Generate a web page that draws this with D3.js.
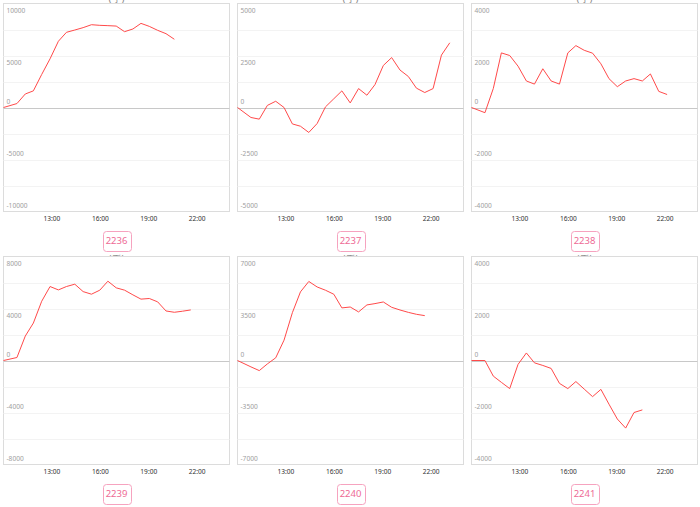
<!DOCTYPE html>
<html><head><meta charset="utf-8">
<script src="https://cdn.jsdelivr.net/npm/d3@7"></script>
<style>
html,body{margin:0;padding:0;background:#fff;}
svg{display:block;font-family:"Noto Sans",sans-serif;}
</style></head>
<body>
<svg id="chart" width="700" height="507"></svg>
<script>
// ---- data ----
const codes = ["2236","2237","2238","2239","2240","2241"];
const times = ["10:00","10:50","11:21","11:51","12:22","12:53","13:24","13:54","14:25","14:56","15:27","15:58","16:28","16:59","17:30","18:01","18:31","19:02","19:33","20:04","20:35","21:05","21:36","22:07","22:38","23:09"];
const v2236 = [0,380,1300,1600,3180,4680,6370,7230,7450,7680,7960,7900,7870,7830,7290,7550,8090,7800,7420,7100,6560];
const v2237 = [0,-480,-560,100,300,0,-790,-900,-1200,-770,30,420,800,220,910,590,1100,2020,2400,1800,1490,930,720,910,2520,3110];
const v2238 = [0,-200,730,2100,2000,1590,1020,900,1490,1020,900,2100,2380,2200,2090,1680,1110,800,1020,1110,1020,1290,620,500];
const v2239 = [0,230,1880,2880,4560,5690,5430,5690,5870,5300,5100,5410,6100,5590,5410,5050,4720,4770,4510,3810,3710,3790,3890];
const v2240 = [0,-430,-680,-230,180,1370,3220,4620,5320,4950,4730,4460,3540,3600,3270,3740,3830,3940,3580,3400,3240,3110,3020];
const v2241 = [0,0,-600,-840,-1080,-150,290,-90,-190,-305,-880,-1080,-810,-1100,-1390,-1110,-1680,-2250,-2600,-2000,-1900];
const seriesValues = [v2236,v2237,v2238,v2239,v2240,v2241];
const yMax = [10000,5000,4000,8000,7000,4000];
const yTickLabels = [
  ["10000","5000","0","-5000","-10000"],
  ["5000","2500","0","-2500","-5000"],
  ["4000","2000","0","-2000","-4000"],
  ["8000","4000","0","-4000","-8000"],
  ["7000","3500","0","-3500","-7000"],
  ["4000","2000","0","-2000","-4000"]
];
const xTickLabels = ["13:00","16:00","19:00","22:00"];
const xDomain = ["10:00","24:00"];
const unitTitle = "(手)";

// ---- layout ----
const colLeft = [3.5, 237.5, 471.5];
const rowTop = [3.5, 256.5];
const pw = 226, ph = 208;

const toH = s => { const [h,m] = s.split(":").map(Number); return h + m/60; };
const svg = d3.select("#chart");

codes.forEach((code, i) => {
  const col = i % 3, row = Math.floor(i / 3);
  const L = colLeft[col], T = rowTop[row];
  const g = svg.append("g");

  // partially hidden unit title (mostly covered, as in the reference)
  g.append("text")
    .attr("x", L + pw/2).attr("y", row === 0 ? T - 2 : T + 6)
    .attr("text-anchor","middle").attr("font-size", 10).attr("fill","#888")
    .text(unitTitle);

  const x = d3.scaleLinear().domain(xDomain.map(toH)).range([L, L + pw]);
  const y = d3.scaleLinear().domain([-yMax[i], yMax[i]]).range([T + ph, T]);

  g.append("rect").attr("x", L).attr("y", T).attr("width", pw).attr("height", ph)
    .attr("fill","#fff").attr("stroke","#dcdcdc").attr("stroke-width",1);

  // grid
  const gridVals = d3.range(-4, 5).map(k => k * yMax[i] / 4).filter(v => Math.abs(v) < yMax[i] && v !== 0);
  g.selectAll(null).data(gridVals).enter().append("line")
    .attr("x1", L).attr("x2", L + pw)
    .attr("y1", d => Math.round(y(d)) + 0.5).attr("y2", d => Math.round(y(d)) + 0.5)
    .attr("stroke","#f3f3f3").attr("stroke-width",1);

  // zero line
  g.append("line").attr("x1", L).attr("x2", L + pw)
    .attr("y1", Math.round(y(0)) + 0.5).attr("y2", Math.round(y(0)) + 0.5)
    .attr("stroke","#c8c8c8").attr("stroke-width",1);

  // y labels (inside)
  const labVals = [yMax[i], yMax[i]/2, 0, -yMax[i]/2, -yMax[i]];
  g.selectAll(null).data(labVals).enter().append("text")
    .attr("x", L + 3)
    .attr("y", (d) => d > 0 ? y(d) + 9 : y(d) - 3.5)
    .attr("font-size", 6.6).attr("fill","#a0a0a0")
    .text((d, j) => yTickLabels[i][j]);

  // x labels
  g.selectAll(null).data(xTickLabels).enter().append("text")
    .attr("x", d => x(toH(d))).attr("y", T + ph + 9.5)
    .attr("text-anchor","middle").attr("font-size", 6.6).attr("fill","#333")
    .text(d => d);

  // line
  const data = seriesValues[i].map((v, k) => ({t: toH(times[k]), v}));
  g.append("path").datum(data)
    .attr("fill","none").attr("stroke","#ff4a4a").attr("stroke-width",1)
    .attr("stroke-linejoin","round")
    .attr("d", d3.line().x(d => x(d.t)).y(d => y(d.v)));

  // code box
  const bw = 28, bh = 20;
  const bx = L + pw/2 - bw/2, by = T + ph + 19;
  g.append("rect").attr("x", Math.round(bx) + 0.5).attr("y", Math.round(by) + 0.5)
    .attr("width", bw).attr("height", bh).attr("rx", 3)
    .attr("fill","#fff").attr("stroke","#f6a3bf").attr("stroke-width",1);
  g.append("text").attr("x", L + pw/2).attr("y", by + 13.8)
    .attr("text-anchor","middle").attr("font-size", 9.5).attr("fill","#ee6a95")
    .text(code);
});
</script>
</body></html>
